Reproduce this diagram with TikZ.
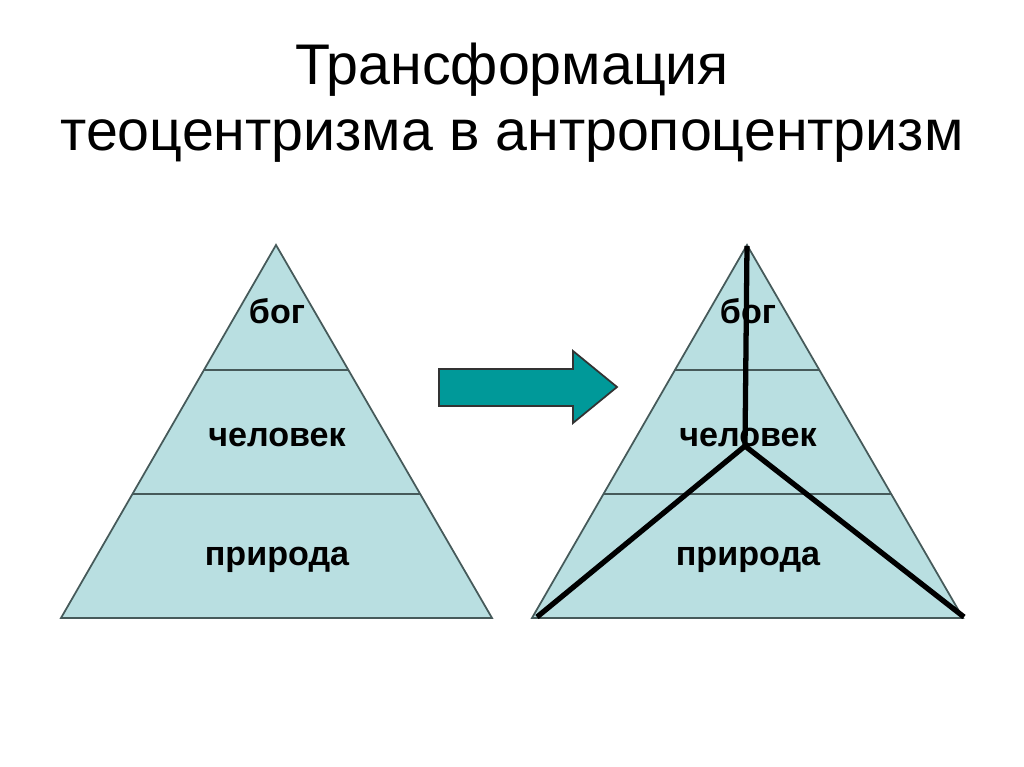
\documentclass[tikz,border=0pt]{standalone}
\usepackage{fontspec}
\setmainfont{Liberation Sans}
\usetikzlibrary{positioning,calc}
\definecolor{pyrfill}{RGB}{185,223,225}
\definecolor{pyrline}{RGB}{70,90,90}
\definecolor{arrteal}{RGB}{0,153,153}
\tikzset{
  pyr/.style={draw=pyrline, fill=pyrfill, line width=0.5pt},
  lvl/.style={draw=pyrline, line width=0.5pt},
  lbl/.style={font=\fontsize{9.7}{11}\selectfont\bfseries, inner sep=0pt},
  ttl/.style={font=\fontsize{16.3}{18.8}\selectfont, align=center, inner sep=0pt},
  bigarr/.style={draw=black!80, fill=arrteal, line width=0.5pt},
  axisln/.style={black, line width=1.5pt},
}
\begin{document}
\begin{tikzpicture}[x=0.01cm, y=-0.01cm]
  \useasboundingbox (0,0) rectangle (1024,767);
  % title
  \node[ttl] (title) at (512,103) {Трансформация\\теоцентризма в антропоцентризм};
  % left pyramid
  \coordinate (la) at (276,245);
  \coordinate (ll) at (61,618);
  \coordinate (lr) at (492,618);
  \draw[pyr] (la) -- (ll) -- (lr) -- cycle;
  \draw[lvl] ($(la)!0.335!(ll)$) -- ($(la)!0.335!(lr)$);
  \draw[lvl] ($(la)!0.668!(ll)$) -- ($(la)!0.668!(lr)$);
  \node[lbl] (god1) at (277,311) {бог};
  \node[lbl] (man1) at (277,437) {человек};
  \node[lbl] (nat1) at (277,560) {природа};
  % arrow
  \draw[bigarr] (439,369) -- (573,369) -- (573,351) -- (617,387)
    -- (573,423) -- (573,406) -- (439,406) -- cycle;
  % right pyramid
  \coordinate (ra) at (747,245);
  \coordinate (rl) at (532,618);
  \coordinate (rr) at (963,618);
  \draw[pyr] (ra) -- (rl) -- (rr) -- cycle;
  \draw[lvl] ($(ra)!0.335!(rl)$) -- ($(ra)!0.335!(rr)$);
  \draw[lvl] ($(ra)!0.668!(rl)$) -- ($(ra)!0.668!(rr)$);
  \node[lbl] (god2) at (748,311) {бог};
  \node[lbl] (man2) at (748,437) {человек};
  \node[lbl] (nat2) at (748,560) {природа};
  % new axes
  \coordinate (top) at (747,246);
  \coordinate (mid) at (745,446);
  \coordinate (bl) at (537,617);
  \coordinate (br) at (964,617);
  \draw[axisln] (top) -- (mid);
  \draw[axisln] (bl) -- (mid) -- (br);
\end{tikzpicture}
\end{document}
